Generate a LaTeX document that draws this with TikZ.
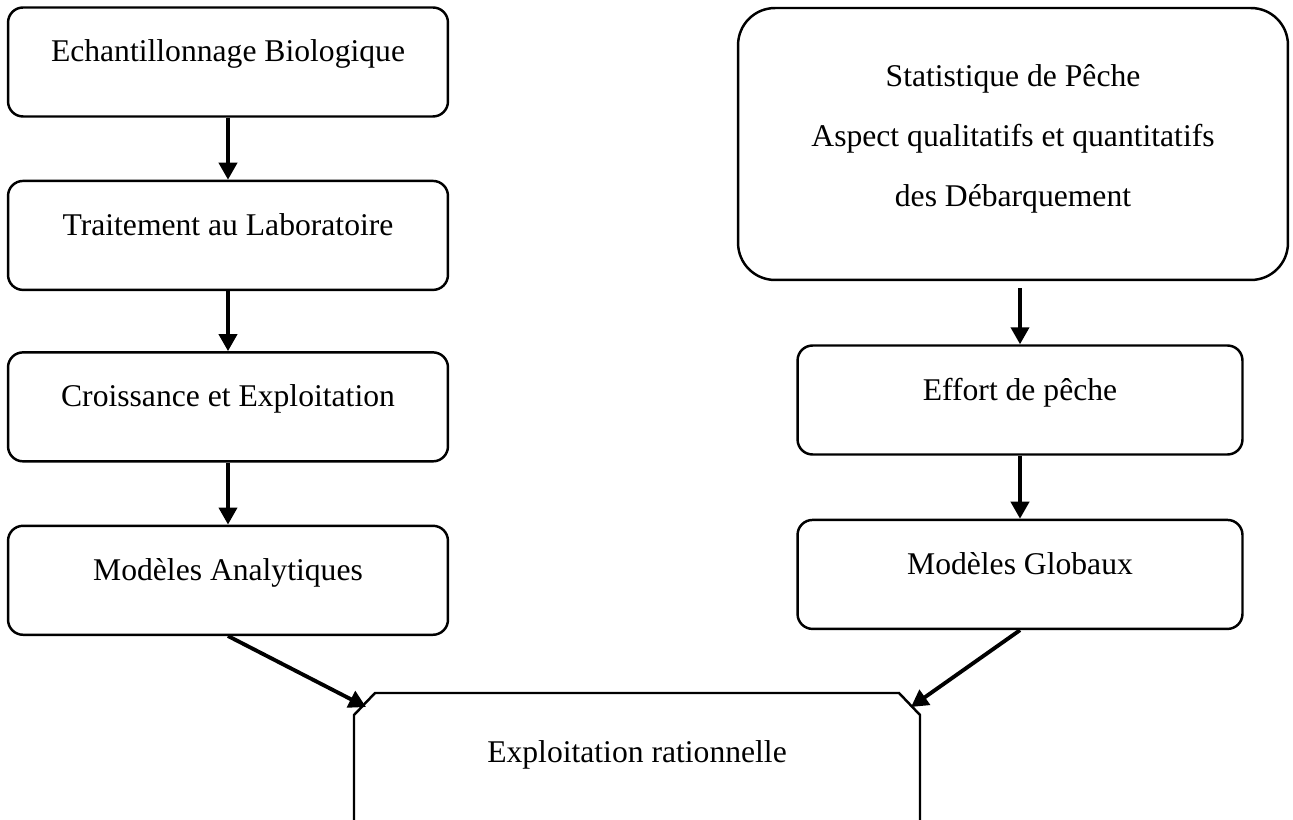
\documentclass[tikz,border=0pt]{standalone}
\usepackage{fontspec}
\setmainfont{Liberation Serif}
\usetikzlibrary{arrows.meta,positioning}

\tikzset{
  stepbox/.style={draw, line width=1.4pt, rounded corners=0.3cm, minimum width=8.8cm,
    minimum height=2.18cm, text height=12pt, text depth=12pt, inner sep=0pt},
  flow/.style={-{Triangle[width=0.36cm,length=0.34cm]}, line width=2.2pt},
}

\begin{document}
\begin{tikzpicture}[x=0.02cm, y=-0.02cm, font=\fontsize{18}{34}\selectfont]
  \useasboundingbox (0,0) rectangle (1293,820);
  \clip (0,0) rectangle (1293,820);

  % left column
  \node[stepbox] (ech) at (228,62) {Echantillonnage Biologique};
  \node[stepbox, below=1.24cm of ech] (trt) {Traitement au Laboratoire};
  \node[stepbox, below=1.2cm of trt] (crs) {Croissance et Exploitation};
  \node[stepbox, below=1.24cm of crs] (ana) {Modèles Analytiques};

  % right column
  \node[draw, line width=1.4pt, rounded corners=0.74cm, minimum width=11cm, minimum height=5.44cm,
    inner sep=0pt] (stat) at (1013,144) {};
  \node[align=center, yshift=0.1cm] (stattxt) at (stat.center)
    {Statistique de Pêche\\Aspect qualitatifs et quantitatifs\\des Débarquement};
  \node[stepbox, minimum width=8.9cm] (eff) at (1020,400) {Effort de pêche};
  \node[stepbox, minimum width=8.9cm, below=1.26cm of eff] (glob) {Modèles Globaux};

  % bottom (cut by the page)
  \draw[line width=1.4pt] (354,840) -- (354,715) -- (375,693) -- (899,693) -- (920,715) -- (920,840);
  \node (expl) at (637,755) {Exploitation rationnelle};
  \coordinate (inL) at (366,707);
  \coordinate (inR) at (911,707);

  \draw[flow] (ech) -- (trt);
  \draw[flow] (trt) -- (crs);
  \draw[flow] (crs) -- (ana);
  \draw[flow, shorten <=0.14cm] (stat.south -| eff.north) -- (eff.north);
  \draw[flow] (eff) -- (glob);
  \draw[flow] (ana.south) -- (inL);
  \draw[flow] (glob.south) -- (inR);
\end{tikzpicture}
\end{document}
